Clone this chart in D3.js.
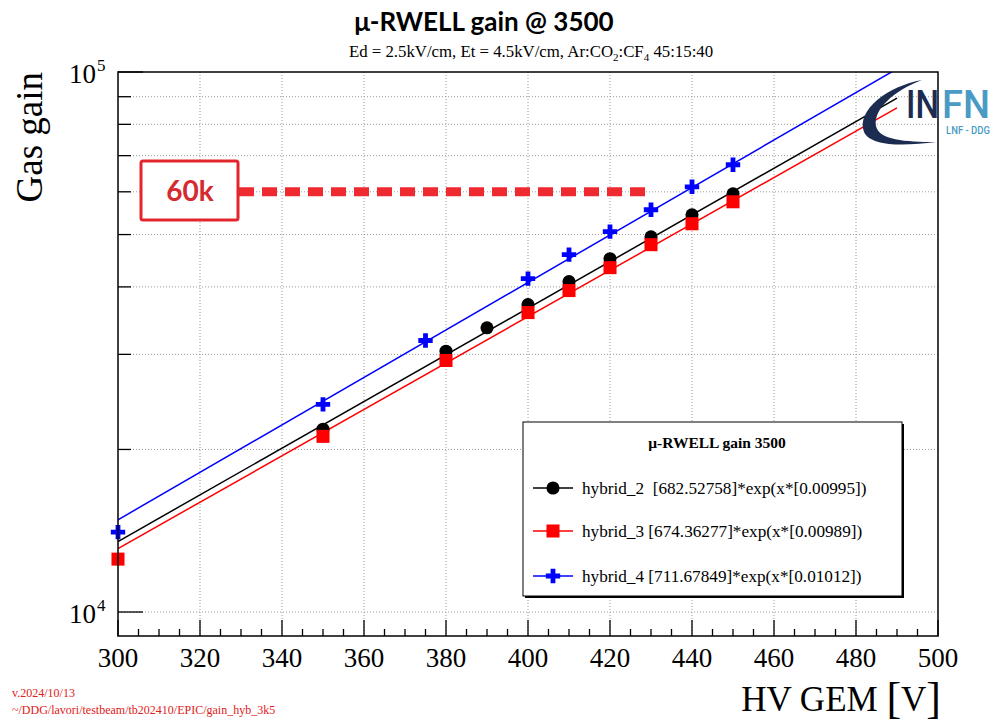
<!DOCTYPE html>
<html>
<head>
<meta charset="utf-8">
<script src="https://cdn.jsdelivr.net/npm/d3@7"></script>
<style>
  body { margin: 0; background: #fff; }
  svg { display: block; }
</style>
</head>
<body>
<script>
var hv2 = [350, 380, 390, 400, 410, 420, 430, 440, 450];
var gain2 = [21800, 30400, 33600, 37100, 40900, 45100, 49500, 54400, 59500];
var hv3 = [300, 350, 380, 400, 410, 420, 430, 440, 450];
var gain3 = [12530, 21150, 29230, 35850, 39380, 43420, 47890, 52360, 57500];
var hv4 = [300, 350, 375, 400, 410, 420, 430, 440, 450];
var gain4 = [14060, 24240, 31830, 41430, 45890, 50620, 55580, 61300, 67330];

// fit parameters from the legend: p0*exp(x*p1)
var seriesNames = ['hybrid_2', 'hybrid_3', 'hybrid_4'];
var fitP0 = [682.52758, 674.36277, 711.67849];
var fitP1 = [0.00995, 0.00989, 0.01012];
var fitLabels = ['hybrid_2  [682.52758]*exp(x*[0.00995])',
                 'hybrid_3 [674.36277]*exp(x*[0.00989])',
                 'hybrid_4 [711.67849]*exp(x*[0.01012])'];
var fitRange = [300, 490];

var xTicks = [300, 320, 340, 360, 380, 400, 420, 440, 460, 480, 500];
var yMajor = [1e4, 1e5];
var yMinor = [2e4, 3e4, 4e4, 5e4, 6e4, 7e4, 8e4, 9e4];

var refGain = 60000;
var refEnd = 429;

var w = 993, h = 719;
var pLeft = 118, pRight = 938, pTop = 72, pBottom = 636;

var svg = d3.select('body').append('svg')
  .attr('width', w)
  .attr('height', h);

var x = d3.scaleLinear().domain([300, 500]).range([pLeft, pRight]);
var y = d3.scaleLog().domain([9028, 1e5]).range([pBottom, pTop]);

// GRID
var grid = svg.append('g')
  .attr('stroke', '#9a9a9a')
  .attr('stroke-width', 1)
  .attr('stroke-dasharray', '1,2');
grid.selectAll('.gx')
  .data(xTicks.slice(1, -1))
  .enter().append('line')
    .attr('x1', d => x(d)).attr('x2', d => x(d))
    .attr('y1', pTop).attr('y2', pBottom);
grid.selectAll('.gy')
  .data(yMajor.concat(yMinor).filter(d => d < 1e5))
  .enter().append('line')
    .attr('x1', pLeft).attr('x2', pRight)
    .attr('y1', d => y(d)).attr('y2', d => y(d));

// 60k reference
svg.append('line')
  .attr('x1', 239).attr('x2', x(refEnd))
  .attr('y1', y(refGain)).attr('y2', y(refGain))
  .attr('stroke', '#ee2a30')
  .attr('stroke-width', 9)
  .attr('stroke-dasharray', '15,8');
svg.append('rect')
  .attr('x', 141).attr('y', 161)
  .attr('width', 97).attr('height', 59)
  .attr('rx', 2)
  .attr('fill', '#fff')
  .attr('stroke', '#e3262d')
  .attr('stroke-width', 3);
svg.append('text')
  .attr('x', 190).attr('y', 201)
  .attr('text-anchor', 'middle')
  .attr('font-family', 'Lato, sans-serif')
  .attr('font-weight', 700)
  .attr('font-size', 28)
  .attr('fill', '#d52a30')
  .text('60k');

// CURVES + MARKERS
svg.append('clipPath').attr('id', 'clip')
  .append('rect').attr('x', pLeft).attr('y', pTop)
  .attr('width', pRight - pLeft).attr('height', pBottom - pTop);

var colors = ['#000000', '#ff0000', '#0000ff'];
var symbols = [d3.symbolCircle, d3.symbolSquare, d3.symbolCross];
var sizes = [135, 170, 115];
var pts = [
  hv2.map((v, i) => [v, gain2[i]]),
  hv3.map((v, i) => [v, gain3[i]]),
  hv4.map((v, i) => [v, gain4[i]])
];

var plot = svg.append('g').attr('clip-path', 'url(#clip)');
pts.forEach(function(p, k) {
  var fit = fitRange.map(v => [v, fitP0[k] * Math.exp(v * fitP1[k])]);
  plot.append('path')
    .attr('d', d3.line().x(d => x(d[0])).y(d => y(d[1]))(fit))
    .attr('fill', 'none')
    .attr('stroke', colors[k])
    .attr('stroke-width', 1.5);
  svg.append('g').selectAll('path')
    .data(p)
    .enter().append('path')
      .attr('transform', d => `translate(${x(d[0])},${y(d[1])})`)
      .attr('d', d3.symbol().type(symbols[k]).size(sizes[k]))
      .attr('fill', colors[k]);
});

// FRAME + TICKS
svg.append('rect')
  .attr('x', pLeft).attr('y', pTop)
  .attr('width', pRight - pLeft).attr('height', pBottom - pTop)
  .attr('fill', 'none')
  .attr('stroke', '#000')
  .attr('stroke-width', 1.5);

var ticks = svg.append('g').attr('stroke', '#000').attr('stroke-width', 1.3);
var xMinor = d3.range(300, 501, 5);
ticks.selectAll('.tx')
  .data(xMinor)
  .enter().append('line')
    .attr('x1', d => x(d)).attr('x2', d => x(d))
    .attr('y1', pBottom)
    .attr('y2', d => pBottom - (d % 20 === 0 ? 16 : 7));
ticks.selectAll('.ty')
  .data(yMajor.concat(yMinor))
  .enter().append('line')
    .attr('x1', pLeft)
    .attr('x2', d => pLeft + (yMajor.indexOf(d) >= 0 ? 25 : 13))
    .attr('y1', d => y(d)).attr('y2', d => y(d));

svg.append('g').selectAll('text')
  .data(xTicks)
  .enter().append('text')
    .attr('x', d => x(d))
    .attr('y', 667)
    .attr('text-anchor', 'middle')
    .attr('font-family', '"Liberation Serif", "Times New Roman", serif')
    .attr('font-size', 27)
    .text(d => d);

yMajor.forEach(function(v) {
  svg.append('text')
    .attr('x', 96)
    .attr('y', y(v) + 11)
    .attr('text-anchor', 'end')
    .attr('font-family', '"Liberation Serif", "Times New Roman", serif')
    .attr('font-size', 27)
    .text('10');
  svg.append('text')
    .attr('x', 97)
    .attr('y', y(v) - 1)
    .attr('font-family', '"Liberation Serif", "Times New Roman", serif')
    .attr('font-size', 17)
    .text(Math.round(Math.log10(v)));
});

// AXIS TITLES
svg.append('text')
  .attr('transform', 'translate(42,72)rotate(-90)')
  .attr('text-anchor', 'end')
  .attr('font-family', '"Liberation Serif", "Times New Roman", serif')
  .attr('font-size', 37)
  .text('Gas gain');

var xt = svg.append('text')
  .attr('x', 941).attr('y', 711)
  .attr('text-anchor', 'end')
  .attr('font-family', '"Liberation Serif", "Times New Roman", serif')
  .attr('font-size', 35);
xt.append('tspan').text('HV GEM ');
xt.append('tspan').attr('font-size', 44).attr('dy', 2).text('[');
xt.append('tspan').attr('font-size', 35).attr('dy', -2).text('V');
xt.append('tspan').attr('font-size', 44).attr('dy', 2).text(']');

// TITLES
svg.append('text')
  .attr('x', 484).attr('y', 31)
  .attr('text-anchor', 'middle')
  .attr('font-family', 'Lato, sans-serif')
  .attr('font-weight', 700)
  .attr('font-size', 26)
  .text('\u03bc-RWELL gain @ 3500');

var sub = svg.append('text')
  .attr('x', 531).attr('y', 57)
  .attr('text-anchor', 'middle')
  .attr('font-family', '"Liberation Serif", "Times New Roman", serif')
  .attr('font-size', 16.8);
sub.append('tspan').text('Ed = 2.5kV/cm, Et = 4.5kV/cm, Ar:CO');
sub.append('tspan').attr('font-size', 11).attr('dy', 4).text('2');
sub.append('tspan').attr('dy', -4).text(':CF');
sub.append('tspan').attr('font-size', 11).attr('dy', 4).text('4');
sub.append('tspan').attr('dy', -4).text(' 45:15:40');

// LEGEND
var lg = svg.append('g');
lg.append('rect')
  .attr('x', 525).attr('y', 424)
  .attr('width', 379).attr('height', 174)
  .attr('fill', '#000');
lg.append('rect')
  .attr('x', 523).attr('y', 422)
  .attr('width', 379).attr('height', 174)
  .attr('fill', '#fff')
  .attr('stroke', '#000')
  .attr('stroke-width', 1);
lg.append('text')
  .attr('x', 717).attr('y', 448)
  .attr('text-anchor', 'middle')
  .attr('font-family', '"Liberation Serif", "Times New Roman", serif')
  .attr('font-weight', 700)
  .attr('font-size', 15.5)
  .text('\u03bc-RWELL gain 3500');
var rowY = [488, 531, 576];
fitLabels.forEach(function(lab, k) {
  lg.append('line')
    .attr('x1', 533).attr('x2', 573)
    .attr('y1', rowY[k]).attr('y2', rowY[k])
    .attr('stroke', colors[k])
    .attr('stroke-width', 1.5);
  lg.append('path')
    .attr('transform', `translate(553,${rowY[k]})`)
    .attr('d', d3.symbol().type(symbols[k]).size(sizes[k]))
    .attr('fill', colors[k]);
  lg.append('text')
    .attr('x', 582).attr('y', rowY[k] + 5.5)
    .attr('font-family', '"Liberation Serif", "Times New Roman", serif')
    .attr('font-size', 17.2)
    .attr('xml:space', 'preserve')
    .text(lab);
});

// INFN logo
var logo = svg.append('g');
logo.append('path')
  .attr('d', 'M922,80 C888,86 856,110 864,132 C871,147 905,146 936,142 C905,142 879,140 876,126 C873,109 895,90 922,80 Z')
  .attr('fill', '#1c2b50');
logo.append('text')
  .attr('x', 906).attr('y', 118)
  .attr('font-family', 'Roboto, sans-serif')
  .attr('font-weight', 500)
  .attr('font-size', 39)
  .attr('textLength', 33)
  .attr('lengthAdjust', 'spacingAndGlyphs')
  .attr('fill', '#1c2b50')
  .text('IN');
logo.append('text')
  .attr('x', 942).attr('y', 118)
  .attr('font-family', 'Roboto, sans-serif')
  .attr('font-weight', 500)
  .attr('font-size', 39)
  .attr('textLength', 48)
  .attr('lengthAdjust', 'spacingAndGlyphs')
  .attr('fill', '#4a9bc3')
  .text('FN');
logo.append('text')
  .attr('x', 946).attr('y', 134)
  .attr('font-family', 'Roboto, sans-serif')
  .attr('font-weight', 500)
  .attr('font-size', 11)
  .attr('textLength', 44)
  .attr('lengthAdjust', 'spacingAndGlyphs')
  .attr('fill', '#4a9bc3')
  .text('LNF - DDG');

// footer stamps
svg.append('text')
  .attr('x', 12).attr('y', 697)
  .attr('font-family', '"Liberation Serif", "Times New Roman", serif')
  .attr('font-size', 12)
  .attr('fill', '#e02020')
  .text('v.2024/10/13');
svg.append('text')
  .attr('x', 12).attr('y', 714)
  .attr('font-family', '"Liberation Serif", "Times New Roman", serif')
  .attr('font-size', 12)
  .attr('fill', '#e02020')
  .text('~/DDG/lavori/testbeam/tb202410/EPIC/gain_hyb_3k5');
</script>
</body>
</html>
